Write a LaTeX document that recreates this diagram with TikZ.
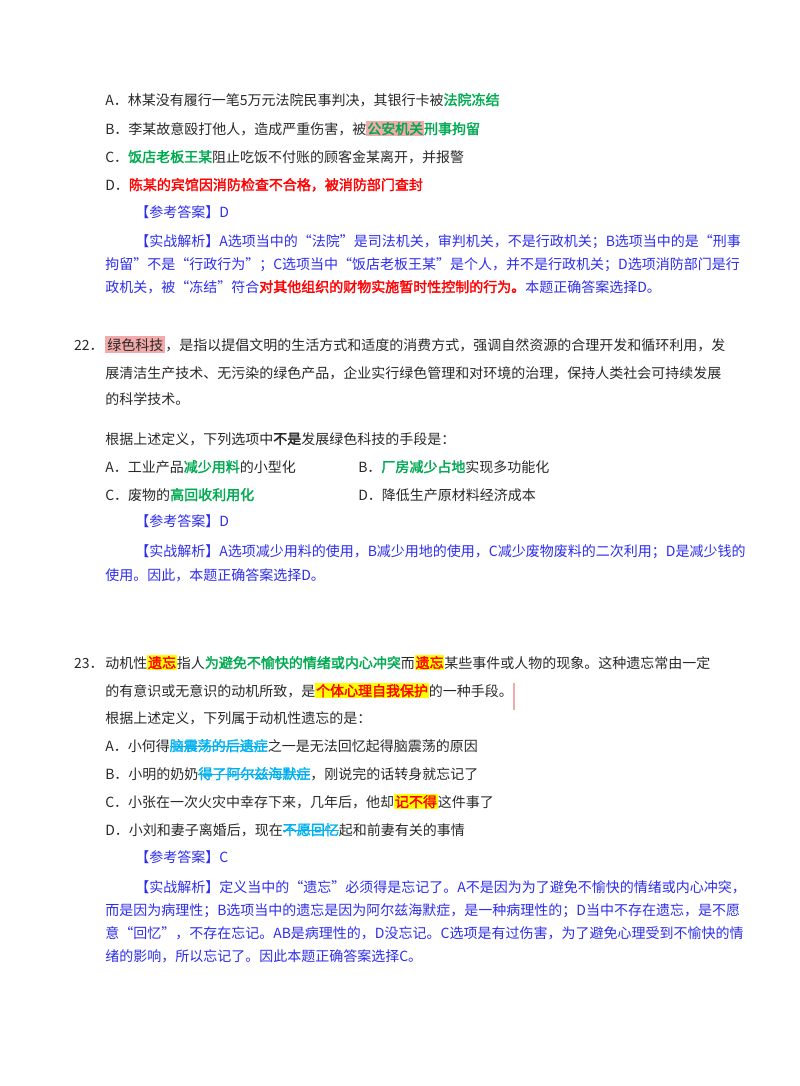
\documentclass[tikz,border=0pt]{standalone}
\usepackage{fontspec}
\setmainfont{Noto Sans CJK SC}[AutoFakeBold=2]
\definecolor{gr}{RGB}{0,170,80}
\definecolor{rd}{RGB}{255,0,0}
\definecolor{bl}{RGB}{45,45,235}
\definecolor{cy}{RGB}{0,176,240}
\definecolor{pk}{RGB}{242,170,170}
\definecolor{yl}{RGB}{255,255,0}
\definecolor{tx}{RGB}{40,40,40}
\newcommand{\gb}[1]{\textcolor{gr}{\textbf{#1}}}
\newcommand{\rb}[1]{\textcolor{rd}{\textbf{#1}}}
\newcommand{\hlc}[2]{{\setlength\fboxsep{0.6pt}\colorbox{#1}{#2}}}
\newsavebox{\csbox}
\newcommand{\cs}[1]{\sbox{\csbox}{\color{cy}\textbf{#1}}\rlap{\textcolor{cy}{\rule[0.32em]{\wd\csbox}{0.5pt}}}\usebox{\csbox}}
\tikzset{ln/.style={anchor=base west,inner sep=0pt,text=tx,font=\fontsize{10.5pt}{12pt}\selectfont},
 bt/.style={ln,text=bl}}
\begin{document}
\begin{tikzpicture}[x=0.75pt,y=-0.75pt]
\useasboundingbox (0,0) rectangle (800,1086);
\node[ln] (a1) at (105,105) {A．林某没有履行一笔5万元法院民事判决，其银行卡被\gb{法院冻结}};
\node[ln] (a2) at (105,134) {B．李某故意殴打他人，造成严重伤害，被\hlc{pk}{\gb{公安机关}}\gb{刑事拘留}};
\node[ln] (a3) at (105,162) {C．\gb{饭店老板王某}阻止吃饭不付账的顾客金某离开，并报警};
\node[ln] (a4) at (105,190) {D．\rb{陈某的宾馆因消防检查不合格，被消防部门查封}};
\node[bt] (a5) at (135,217) {【参考答案】D};
\node[bt] (a6) at (135,246) {【实战解析】A选项当中的“法院”是司法机关，审判机关，不是行政机关；B选项当中的是“刑事};
\node[bt] (a7) at (105,269) {拘留”不是“行政行为”；C选项当中“饭店老板王某”是个人，并不是行政机关；D选项消防部门是行};
\node[bt] (a8) at (105,292) {政机关，被“冻结”符合\rb{对其他组织的财物实施暂时性控制的行为。}本题正确答案选择D。};

\node[ln,anchor=base east] (n22) at (104,350) {22．};
\node[ln] (b1) at (105,350) {{\setlength\fboxsep{1.5pt}\colorbox{pk}{绿色科技}}，是指以提倡文明的生活方式和适度的消费方式，强调自然资源的合理开发和循环利用，发};
\node[ln] (b2) at (105,378) {展清洁生产技术、无污染的绿色产品，企业实行绿色管理和对环境的治理，保持人类社会可持续发展};
\node[ln] (b3) at (105,404) {的科学技术。};
\node[ln] (b4) at (105,444) {根据上述定义，下列选项中\textbf{不是}发展绿色科技的手段是：};
\node[ln] (b5) at (105,472) {A．工业产品\gb{减少用料}的小型化};
\node[ln] (b6) at (358,472) {B．\gb{厂房减少占地}实现多功能化};
\node[ln] (b7) at (105,500) {C．废物的\gb{高回收利用化}};
\node[ln] (b8) at (358,500) {D．降低生产原材料经济成本};
\node[bt] (b9) at (135,526) {【参考答案】D};
\node[bt] (b10) at (135,556) {【实战解析】A选项减少用料的使用，B减少用地的使用，C减少废物废料的二次利用；D是减少钱的};
\node[bt] (b11) at (105,580) {使用。因此，本题正确答案选择D。};

\node[ln,anchor=base east] (n23) at (104,668) {23．};
\node[ln] (c1) at (105,668) {动机性\hlc{yl}{\rb{遗忘}}指人\gb{为避免不愉快的情绪或内心冲突}而\hlc{yl}{\rb{遗忘}}某些事件或人物的现象。这种遗忘常由一定};
\node[ln] (c2) at (105,696) {的有意识或无意识的动机所致，是\hlc{yl}{\rb{个体心理自我保护}}的一种手段。};
\coordinate (bar1) at (514,683);
\coordinate (bar2) at (514,710);
\draw[pk,line width=1.2pt] (bar1) -- (bar2);
\node[ln] (c3) at (105,723) {根据上述定义，下列属于动机性遗忘的是：};
\node[ln] (c4) at (105,751) {A．小何得\cs{脑震荡的后遗症}之一是无法回忆起得脑震荡的原因};
\node[ln] (c5) at (105,779) {B．小明的奶奶\cs{得了阿尔兹海默症}，刚说完的话转身就忘记了};
\node[ln] (c6) at (105,807) {C．小张在一次火灾中幸存下来，几年后，他却\hlc{yl}{\rb{记不得}}这件事了};
\node[ln] (c7) at (105,835) {D．小刘和妻子离婚后，现在\cs{不愿回忆}起和前妻有关的事情};
\node[bt] (c8) at (135,862) {【参考答案】C};
\node[bt] (c9) at (135,892) {【实战解析】定义当中的“遗忘”必须得是忘记了。A不是因为为了避免不愉快的情绪或内心冲突，};
\node[bt] (c10) at (105,915) {而是因为病理性；B选项当中的遗忘是因为阿尔兹海默症，是一种病理性的；D当中不存在遗忘，是不愿};
\node[bt] (c11) at (105,938) {意“回忆”，不存在忘记。AB是病理性的，D没忘记。C选项是有过伤害，为了避免心理受到不愉快的情};
\node[bt] (c12) at (105,961) {绪的影响，所以忘记了。因此本题正确答案选择C。};
\end{tikzpicture}
\end{document}
